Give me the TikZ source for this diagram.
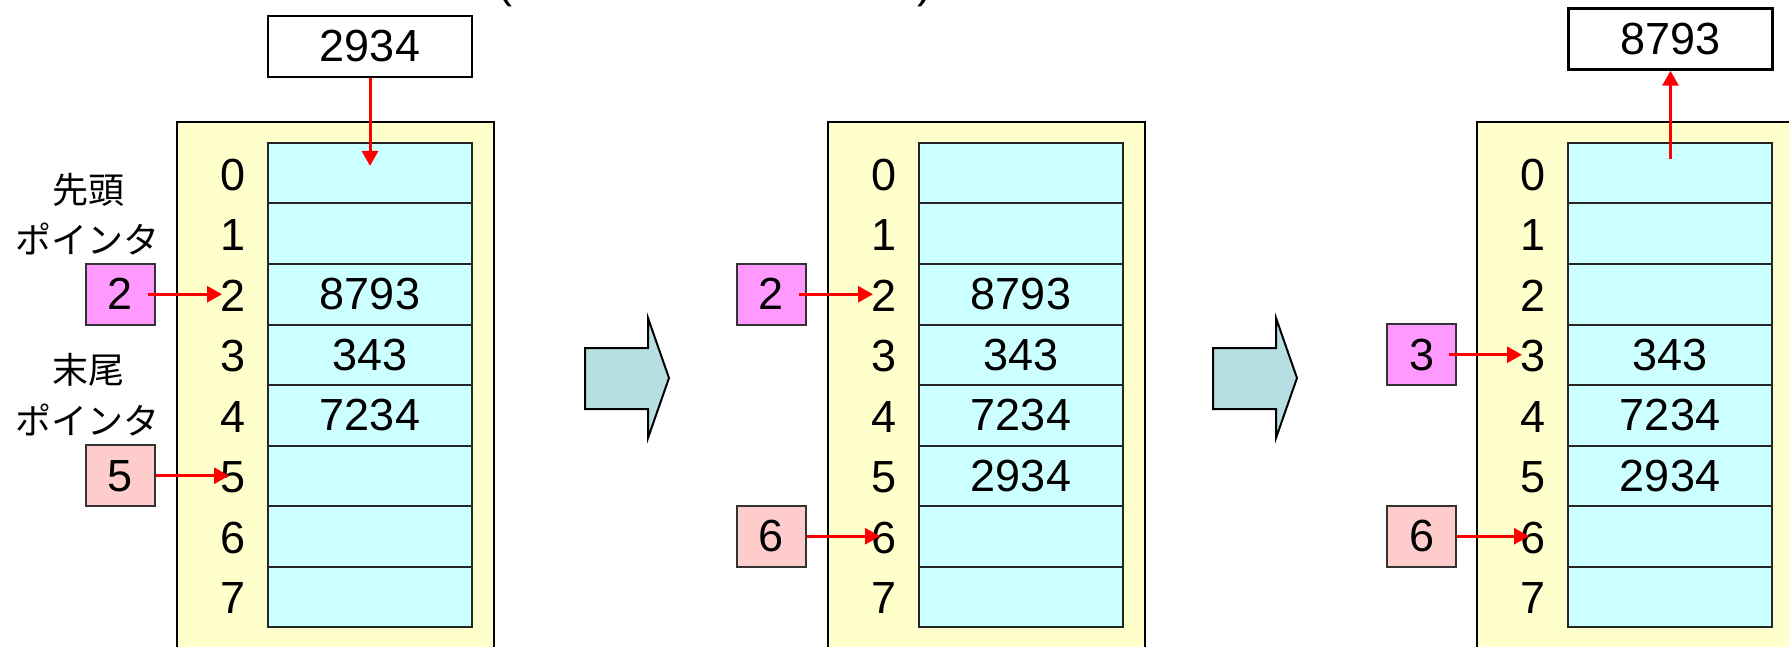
\documentclass[tikz,border=0pt]{standalone}
\usepackage{fontspec}
\setmainfont{Liberation Sans}
\newfontfamily\jpfont{Noto Sans CJK JP}
\usetikzlibrary{arrows.meta,calc}
\definecolor{panelyellow}{HTML}{FFFFCC}
\definecolor{cellcyan}{HTML}{CCFFFF}
\definecolor{headpink}{HTML}{FF99FF}
\definecolor{tailpink}{HTML}{FFCCCC}
\definecolor{stepblue}{HTML}{B7DEE3}
\begin{document}
\begin{tikzpicture}[x=1pt,y=-1pt,
  bigtext/.style={font=\fontsize{45}{50}\selectfont},
  idx/.style={bigtext, inner sep=0pt},
  panel/.style={draw=black, line width=2pt, fill=panelyellow},
  cell/.style={draw=black!85, line width=2pt, fill=cellcyan,
    minimum width=204pt, minimum height=60.5pt, inner sep=0pt, bigtext},
  ptr/.style={draw=black!80, line width=1.8pt, minimum width=69pt,
    minimum height=61pt, inner sep=0pt, bigtext},
  outbox/.style={draw=black, line width=2.4pt, fill=white,
    minimum width=204pt, minimum height=61pt, inner sep=0pt, bigtext},
  link/.style={red, line width=3pt, -{Triangle[length=15pt,width=16pt]}},
  jp/.style={font=\jpfont\fontsize{36}{40}\selectfont, inner sep=0pt},
  stepshape/.style={draw=black, line width=2pt, fill=stepblue, line join=miter}
]
\useasboundingbox (0,0) rectangle (1789,647);
\clip (0,0) rectangle (1789,647);

% heading brackets (mostly above the frame)
\node[bigtext, anchor=base, inner sep=0pt] (lparen) at (505,-2) {(};
\node[bigtext, anchor=base, inner sep=0pt] (rparen) at (925,-2) {)};

% three snapshots of the ring buffer
\foreach \p/\ox in {1/0, 2/651, 3/1300} {
  \draw[panel] (177+\ox,122) rectangle (494+\ox,660);
  \foreach \i in {0,...,7} {
    \node[cell] (p\p-c\i) at (370+\ox,173.25+60.5*\i) {};
    \node[idx] (p\p-i\i) at (233+\ox,175+60.5*\i) {\i};
  }
}

% stored values
\node[bigtext] at (p1-c2) {8793};
\node[bigtext] at (p1-c3) {343};
\node[bigtext] at (p1-c4) {7234};

\node[bigtext] at (p2-c2) {8793};
\node[bigtext] at (p2-c3) {343};
\node[bigtext] at (p2-c4) {7234};
\node[bigtext] at (p2-c5) {2934};

\node[bigtext] at (p3-c3) {343};
\node[bigtext] at (p3-c4) {7234};
\node[bigtext] at (p3-c5) {2934};

% pointer labels
\node[jp] (headlbl1) at (88,190) {先頭};
\node[jp] (headlbl2) at (88,239) {ポインタ};
\node[jp] (taillbl1) at (88,370) {末尾};
\node[jp] (taillbl2) at (88,420) {ポインタ};

% head / tail pointer boxes
\node[ptr, fill=headpink] (h1) at (120.5,294.25) {2};
\node[ptr, fill=tailpink] (t1) at (120.5,475.75) {5};
\node[ptr, fill=headpink] (h2) at (771.5,294.25) {2};
\node[ptr, fill=tailpink] (t2) at (771.5,536.25) {6};
\node[ptr, fill=headpink] (h3) at (1421.5,354.75) {3};
\node[ptr, fill=tailpink] (t3) at (1421.5,536.25) {6};

\draw[link] ($(h1.east)+(-8,0)$) -- ($(p1-i2.center)+(-11,-1.75)$);
\draw[link] (t1.east) -- ($(p1-i5.center)+(-4,-1.75)$);
\draw[link] ($(h2.east)+(-8,0)$) -- ($(p2-i2.center)+(-11,-1.75)$);
\draw[link] (t2.east) -- ($(p2-i6.center)+(-4,-1.75)$);
\draw[link] ($(h3.east)+(-8,0)$) -- ($(p3-i3.center)+(-11,-1.75)$);
\draw[link] (t3.east) -- ($(p3-i6.center)+(-4,-1.75)$);

% enqueue: value goes in at the tail
\node[outbox] (inval) at (370,46.5) {2934};
\coordinate (inpos) at (370,166);
\draw[link] (inval.south) -- (inpos);

% dequeue: value taken out at the head
\node[outbox] (outval) at (1670.5,39) {8793};
\coordinate (outpos) at (1670.5,159);
\draw[link] (outpos) -- (outval.south);

% step arrows between snapshots
\draw[stepshape] (585,348) -- (648,348) -- (648,318) -- (669,378)
  -- (648,438) -- (648,409) -- (585,409) -- cycle;
\draw[stepshape] (1213,348) -- (1276,348) -- (1276,318) -- (1297,378)
  -- (1276,438) -- (1276,409) -- (1213,409) -- cycle;
\end{tikzpicture}
\end{document}
